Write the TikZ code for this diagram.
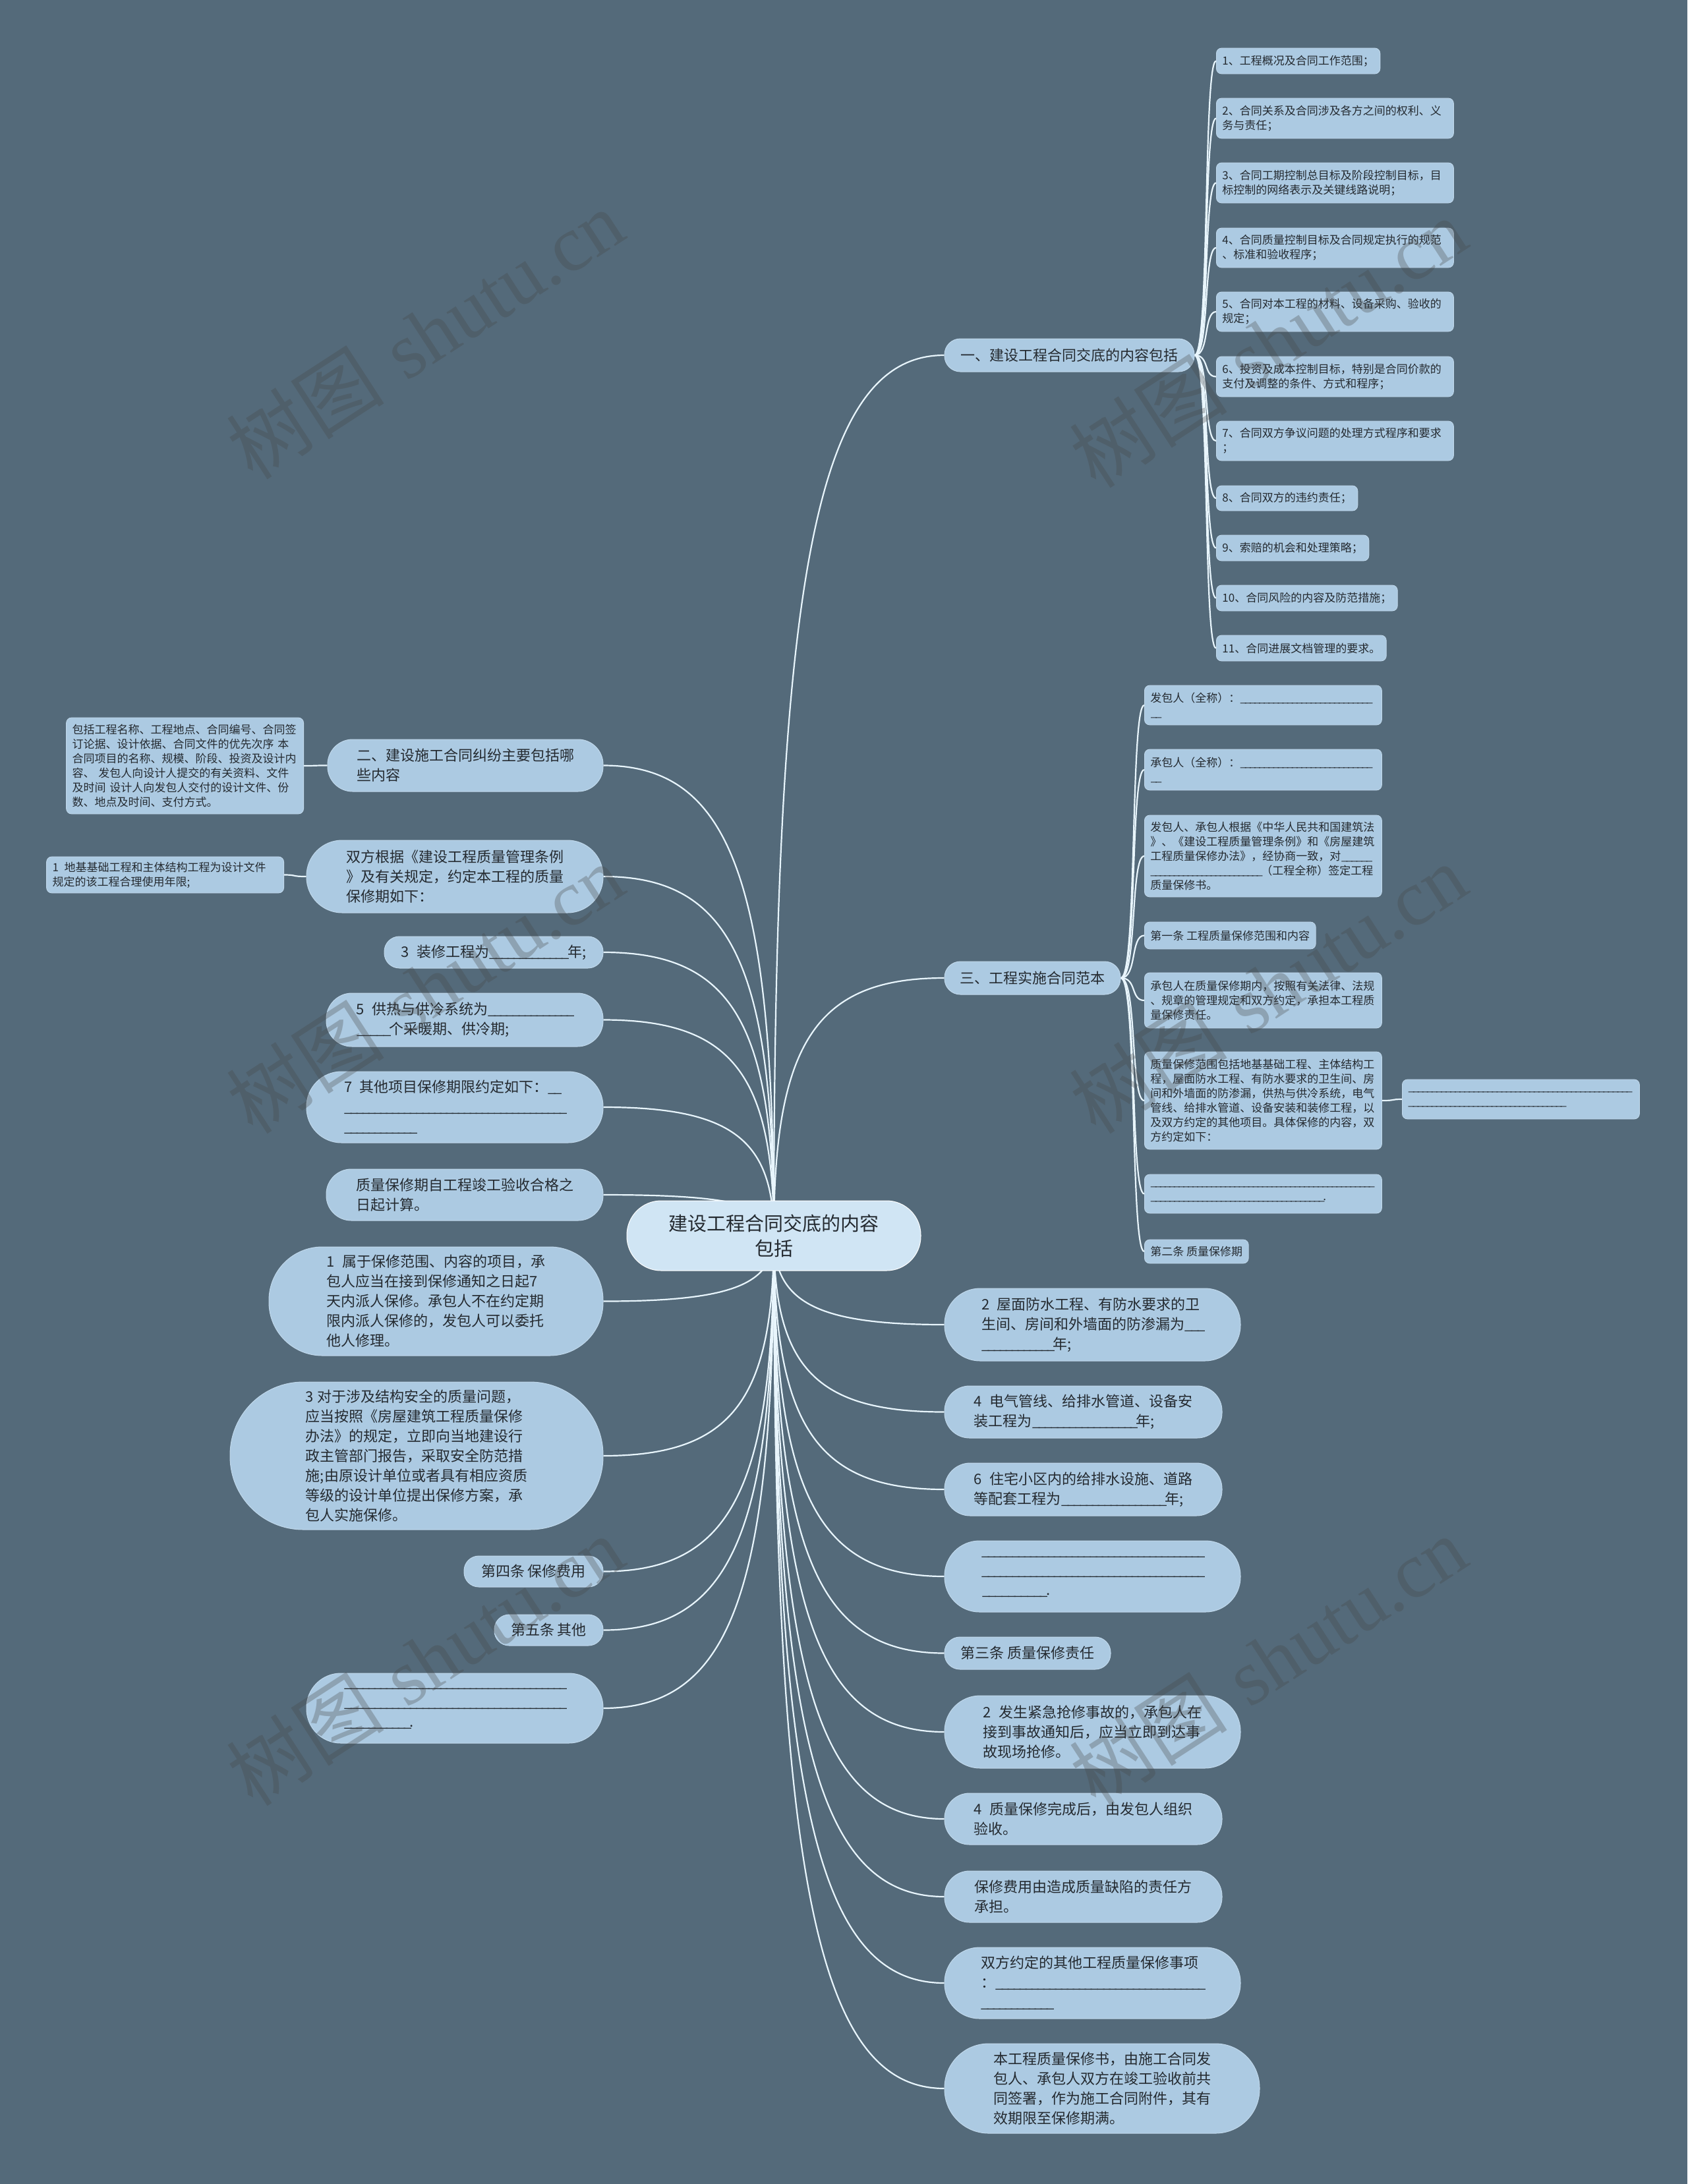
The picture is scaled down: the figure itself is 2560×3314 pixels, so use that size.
\documentclass[tikz,border=0pt]{standalone}
\usepackage{fontspec}
\newfontfamily\cjk{Noto Sans CJK SC}
\newfontfamily\wmserif{Liberation Serif}
\usetikzlibrary{calc}
\definecolor{bgc}{RGB}{84,106,122}
\definecolor{nodec}{RGB}{172,202,226}
\definecolor{rootc}{RGB}{208,229,244}
\definecolor{linec}{RGB}{232,245,252}
\definecolor{txtc}{RGB}{36,42,48}
\definecolor{edgec}{RGB}{192,216,235}
\definecolor{wmc}{RGB}{70,70,70}
\newcommand\blank[1]{\leavevmode\xleaders\hbox{\_\kern-0.15em}\hskip#1pt\kern0pt\relax}
\newcommand\gap{\hspace{0.5em}}
\newcommand\rootlink[2]{\draw[conn] let \p1=(#1), \p2=(#2) in (\p1) .. controls (\x1,{\y1+0.75*(\y2-\y1)}) and ({\x1+0.25*(\x2-\x1)},\y2) .. (\p2);}
\newcommand\leaflink[2]{\draw[conn] let \p1=(#1), \p2=(#2) in (\p1) .. controls ({\x1+0.7*(\x2-\x1)},\y1) and ({\x1+0.4*(\x2-\x1)},\y2) .. (\p2);}
\pgfdeclarelayer{back}
\pgfdeclarelayer{lines}
\pgfdeclarelayer{fore}
\pgfsetlayers{back,lines,main,fore}
\tikzset{
  lvl/.style={fill=nodec, draw=edgec, line width=1pt, text=txtc,
    font=\cjk\fontsize{22}{30}\selectfont, align=left, inner sep=0pt},
  rootbox/.style={fill=rootc, draw=white, line width=1pt, text=txtc,
    font=\cjk\fontsize{29}{38}\selectfont, align=center, inner sep=0pt},
  leaf/.style={fill=nodec, draw=edgec, line width=0.8pt, rounded corners=8pt, text=txtc,
    font=\cjk\fontsize{17}{22}\selectfont, align=left, inner xsep=9pt, inner ysep=0pt, anchor=west},
  tw/.style={text width=342pt},
  conn/.style={draw=linec, line width=2.2pt},
  wm/.style={text=wmc, opacity=0.3, rotate=33, font=\fontsize{120}{130}\selectfont},
}
\begin{document}
\begin{tikzpicture}[x=1pt,y=-1pt]
\useasboundingbox (0,0) rectangle (2560,3314);
\begin{pgfonlayer}{back}
\fill[bgc] (0,0) rectangle (2560,3314);
\end{pgfonlayer}

% root
\node[rootbox, minimum width=446pt, minimum height=106pt, rounded corners=52pt] (root) at (1174,1875) {建设工程合同交底的内容\\包括};

% right level-1
\node[lvl, minimum width=379pt, minimum height=50pt, rounded corners=24pt] (R1) at (1622.5,539) {一、建设工程合同交底的内容包括};
\node[lvl, minimum width=267pt, minimum height=50pt, rounded corners=24pt] (R3) at (1566.5,1484) {三、工程实施合同范本};
\node[lvl, minimum width=449pt, minimum height=110pt, rounded corners=54pt] (R4) at (1657.5,2010) {2\gap 屋面防水工程、有防水要求的卫\\生间、房间和外墙面的防渗漏为\blank{29}\\\blank{108}年;};
\node[lvl, minimum width=421pt, minimum height=79pt, rounded corners=38pt] (R5) at (1643.5,2142.5) {4\gap 电气管线、给排水管道、设备安\\装工程为\blank{158}年;};
\node[lvl, minimum width=421pt, minimum height=80pt, rounded corners=39pt] (R6) at (1643.5,2260) {6\gap 住宅小区内的给排水设施、道路\\等配套工程为\blank{158}年;};
\node[lvl, minimum width=449pt, minimum height=108pt, rounded corners=53pt] (R7) at (1657.5,2392) {\blank{336}\\\blank{336}\\\blank{98}.};
\node[lvl, minimum width=252pt, minimum height=49pt, rounded corners=23.5pt] (R8) at (1559,2508.5) {第三条 质量保修责任};
\node[lvl, minimum width=449pt, minimum height=110pt, rounded corners=54pt] (R9) at (1657.5,2628) {2\gap 发生紧急抢修事故的，承包人在\\接到事故通知后，应当立即到达事\\故现场抢修。};
\node[lvl, minimum width=421pt, minimum height=78pt, rounded corners=38pt] (R10) at (1643.5,2760) {4\gap 质量保修完成后，由发包人组织\\验收。};
\node[lvl, minimum width=421pt, minimum height=78pt, rounded corners=38pt] (R11) at (1643.5,2878) {保修费用由造成质量缺陷的责任方\\承担。};
\node[lvl, minimum width=449pt, minimum height=108pt, rounded corners=53pt] (R12) at (1657.5,3009) {双方约定的其他工程质量保修事项\\：\blank{316}\\\blank{108}};
\node[lvl, minimum width=478pt, minimum height=136pt, rounded corners=67pt] (R13) at (1672,3169) {本工程质量保修书，由施工合同发\\包人、承包人双方在竣工验收前共\\同签署，作为施工合同附件，其有\\效期限至保修期满。};

% left level-1
\node[lvl, minimum width=418pt, minimum height=79pt, rounded corners=38pt] (L2) at (706,1161.5) {二、建设施工合同纠纷主要包括哪\\些内容};
\node[lvl, minimum width=450pt, minimum height=110pt, rounded corners=54pt] (L3) at (690,1330) {双方根据《建设工程质量管理条例\\》及有关规定，约定本工程的质量\\保修期如下：};
\node[lvl, minimum width=332pt, minimum height=48pt, rounded corners=23pt] (L4) at (749,1445) {3\gap 装修工程为\blank{119}年;};
\node[lvl, minimum width=420pt, minimum height=81pt, rounded corners=39pt] (L5) at (705,1547.5) {5\gap 供热与供冷系统为\blank{129}\\\blank{50}个采暖期、供冷期;};
\node[lvl, minimum width=450pt, minimum height=108pt, rounded corners=53pt] (L6) at (690,1680) {7\gap 其他项目保修期限约定如下：\blank{19}\\\blank{336}\\\blank{109}};
\node[lvl, minimum width=420pt, minimum height=78pt, rounded corners=38pt] (L7) at (705,1813) {质量保修期自工程竣工验收合格之\\日起计算。};
\node[lvl, minimum width=507pt, minimum height=165pt, rounded corners=81pt] (L8) at (661.5,1974.5) {1\gap 属于保修范围、内容的项目，承\\包人应当在接到保修通知之日起7\\天内派人保修。承包人不在约定期\\限内派人保修的，发包人可以委托\\他人修理。};
\node[lvl, minimum width=566pt, minimum height=224pt, rounded corners=111pt] (L9) at (632,2209) {3 对于涉及结构安全的质量问题，\\应当按照《房屋建筑工程质量保修\\办法》的规定，立即向当地建设行\\政主管部门报告，采取安全防范措\\施;由原设计单位或者具有相应资质\\等级的设计单位提出保修方案，承\\包人实施保修。};
\node[lvl, minimum width=211pt, minimum height=47pt, rounded corners=22.5pt] (L10) at (809.5,2384.5) {第四条 保修费用};
\node[lvl, minimum width=165pt, minimum height=47pt, rounded corners=22.5pt] (L11) at (832.5,2473.5) {第五条 其他};
\node[lvl, minimum width=450pt, minimum height=106pt, rounded corners=52pt] (L12) at (690,2592) {\blank{336}\\\blank{336}\\\blank{99}.};

% leaves of R1
\node[leaf, minimum height=39pt] (I1) at (1845,92.5) {1、工程概况及合同工作范围；};
\node[leaf, tw, minimum height=61pt] (I2) at (1845,179.5) {2、合同关系及合同涉及各方之间的权利、义\\务与责任；};
\node[leaf, tw, minimum height=61pt] (I3) at (1845,277.5) {3、合同工期控制总目标及阶段控制目标，目\\标控制的网络表示及关键线路说明；};
\node[leaf, tw, minimum height=60pt] (I4) at (1845,376) {4、合同质量控制目标及合同规定执行的规范\\、标准和验收程序；};
\node[leaf, tw, minimum height=60pt] (I5) at (1845,473) {5、合同对本工程的材料、设备采购、验收的\\规定；};
\node[leaf, tw, minimum height=61pt] (I6) at (1845,571.5) {6、投资及成本控制目标，特别是合同价款的\\支付及调整的条件、方式和程序；};
\node[leaf, tw, minimum height=60pt] (I7) at (1845,669) {7、合同双方争议问题的处理方式程序和要求\\；};
\node[leaf, minimum height=38pt] (I8) at (1845,756) {8、合同双方的违约责任；};
\node[leaf, minimum height=39pt] (I9) at (1845,831.5) {9、索赔的机会和处理策略；};
\node[leaf, minimum height=39pt] (I10) at (1845,907.5) {10、合同风险的内容及防范措施；};
\node[leaf, minimum height=39pt] (I11) at (1845,983.5) {11、合同进展文档管理的要求。};

% leaves of R3
\node[leaf, tw, minimum height=60pt] (Ta) at (1736,1070) {发包人（全称）：\blank{199}\\\blank{15}};
\node[leaf, tw, minimum height=62pt] (Tb) at (1736,1168) {承包人（全称）：\blank{199}\\\blank{15}};
\node[leaf, tw, minimum height=124pt] (Tc) at (1736,1299) {发包人、承包人根据《中华人民共和国建筑法\\》、《建设工程质量管理条例》和《房屋建筑\\工程质量保修办法》，经协商一致，对\blank{46}\\\blank{168}（工程全称）签定工程\\质量保修书。};
\node[leaf, minimum height=41pt] (Td) at (1736,1419.5) {第一条 工程质量保修范围和内容};
\node[leaf, tw, minimum height=84pt] (Te) at (1736,1518) {承包人在质量保修期内，按照有关法律、法规\\、规章的管理规定和双方约定，承担本工程质\\量保修责任。};
\node[leaf, tw, minimum height=148pt] (Tf) at (1736,1670) {质量保修范围包括地基基础工程、主体结构工\\程，屋面防水工程、有防水要求的卫生间、房\\间和外墙面的防渗漏，供热与供冷系统，电气\\管线、给排水管道、设备安装和装修工程，以\\及双方约定的其他项目。具体保修的内容，双\\方约定如下：};
\node[leaf, tw, minimum height=60pt] (Tfc) at (2127,1668) {\blank{338}\\\blank{238}};
\node[leaf, tw, minimum height=59pt] (Tg) at (1736,1811.5) {\blank{338}\\\blank{262}.};
\node[leaf, minimum height=36pt] (Th) at (1736,1899) {第二条 质量保修期};

% leaves on the left
\node[leaf, tw, anchor=east, minimum height=146pt] (L2c) at (461,1162) {包括工程名称、工程地点、合同编号、合同签\\订论据、设计依据、合同文件的优先次序 本\\合同项目的名称、规模、阶段、投资及设计内\\容、 发包人向设计人提交的有关资料、文件\\及时间 设计人向发包人交付的设计文件、份\\数、地点及时间、支付方式。};
\node[leaf, tw, anchor=east, minimum height=55pt] (L3c) at (431,1327.5) {1\gap 地基基础工程和主体结构工程为设计文件\\规定的该工程合理使用年限;};

\begin{pgfonlayer}{lines}
\foreach \t in {R1,R3,R4,R5,R6,R7,R8,R9,R10,R11,R12,R13} {\rootlink{root.center}{\t.west}}
\foreach \t in {L2,L3,L4,L5,L6,L7,L8,L9,L10,L11,L12} {\rootlink{root.center}{\t.east}}
\foreach \t in {I1,I2,I3,I4,I5,I6,I7,I8,I9,I10,I11} {\leaflink{R1.east}{\t.west}}
\foreach \t in {Ta,Tb,Tc,Td,Te,Tf,Tg,Th} {\leaflink{R3.east}{\t.west}}
\leaflink{Tf.east}{Tfc.west}
\leaflink{L2.west}{L2c.east}
\leaflink{L3.west}{L3c.east}
\end{pgfonlayer}

\begin{pgfonlayer}{fore}
\node[wm] (w1) at (645,507) {{\cjk 树图} {\wmserif shutu.cn}};
\node[wm] (w2) at (1924,520) {{\cjk 树图} {\wmserif shutu.cn}};
\node[wm] (w3) at (645,1500) {{\cjk 树图} {\wmserif shutu.cn}};
\node[wm] (w4) at (1924,1500) {{\cjk 树图} {\wmserif shutu.cn}};
\node[wm] (w5) at (645,2520) {{\cjk 树图} {\wmserif shutu.cn}};
\node[wm] (w6) at (1924,2520) {{\cjk 树图} {\wmserif shutu.cn}};
\end{pgfonlayer}
\end{tikzpicture}
\end{document}
